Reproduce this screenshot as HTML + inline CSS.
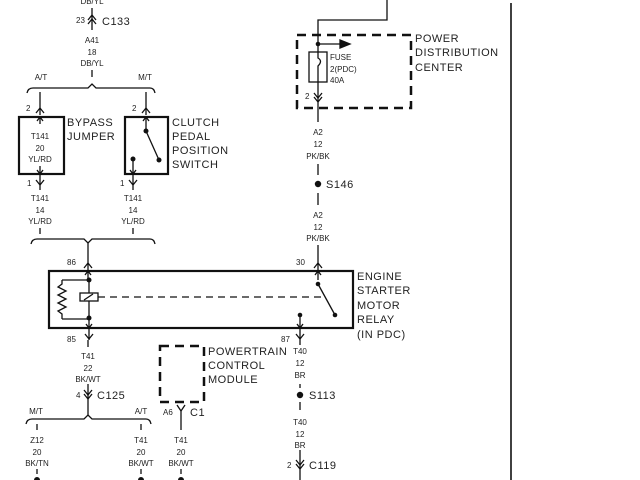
<!DOCTYPE html>
<html><head><meta charset="utf-8"><style>
html,body{margin:0;padding:0;background:#fff;}
svg{display:block;}
text{font-family:"Liberation Sans",sans-serif;fill:#222;}
.s{font-size:8px;text-anchor:middle;}
.l{font-size:11px;letter-spacing:0.5px;}
.sl{font-size:8px;}
</style></head><body>
<svg width="640" height="480" viewBox="0 0 640 480" xmlns="http://www.w3.org/2000/svg">
<g stroke="#111" fill="none" stroke-width="1.3">
<line x1="92" y1="8" x2="92" y2="30"/>
<polyline points="88,20 92,15 96,20"/><polyline points="88,24 92,19 96,24"/>
<line x1="92" y1="70" x2="92" y2="77"/>
<path d="M27,93 Q28,88 33,88 L88,88 L92,84 L96,88 L150,88 Q154,88 155,93"/>
<line x1="40" y1="92" x2="40" y2="115"/>
<polyline points="36,113 40,108 44,113"/>
<line x1="146" y1="92" x2="146" y2="115"/>
<polyline points="142,113 146,108 150,113"/>
<rect x="19" y="117" width="45" height="57" stroke-width="2.2"/>
<rect x="125" y="117" width="43" height="57" stroke-width="2.2"/>
<line x1="40" y1="117" x2="40" y2="124"/><polyline points="37,121 40,117 43,121"/>
<line x1="40" y1="166" x2="40" y2="190"/><polyline points="37,170 40,174 43,170"/>
<polyline points="36,180 40,185 44,180"/>
<line x1="146" y1="117" x2="146" y2="131"/><polyline points="143,121 146,117 149,121"/>
<line x1="146" y1="131" x2="159" y2="160"/>
<line x1="133" y1="159" x2="133" y2="190"/><polyline points="130,170 133,174 136,170"/>
<polyline points="129,180 133,185 137,180"/>
<line x1="40" y1="228" x2="40" y2="234"/><line x1="133" y1="228" x2="133" y2="234"/>
<path d="M31,244 Q32,239 37,239 L84,239 L88,243 L92,239 L150,239 Q154,239 155,244"/>
<line x1="88" y1="243" x2="88" y2="280"/>
<polyline points="84,268 88,263 92,268"/>
<line x1="318" y1="245" x2="318" y2="280"/>
<polyline points="314,268 318,263 322,268"/>
<rect x="49" y="271" width="304" height="57" stroke-width="2.2"/>
<polyline points="85,275 88,271 91,275"/>
<polyline points="315,275 318,271 321,275"/>
<line x1="89" y1="280" x2="89" y2="340"/>
<polyline points="62,280 89,280"/><polyline points="62,319 89,319"/>
<polyline points="62,280 62,284 58,287 66,291 58,295 66,299 58,303 66,307 58,311 62,314 62,319"/>
<rect x="80" y="293" width="18" height="8" fill="#fff"/>
<line x1="84" y1="300" x2="93" y2="294"/>
<line x1="98" y1="297" x2="326" y2="297" stroke-dasharray="7,5"/>
<line x1="318" y1="284" x2="335" y2="315"/>
<polyline points="86,324 89,328 92,324"/>
<polyline points="85,334 89,339 93,334"/>
<line x1="300" y1="315" x2="300" y2="345"/>
<polyline points="297,324 300,328 303,324"/>
<polyline points="296,334 300,339 304,334"/>
<polyline points="318,52 318,20 387,20 387,0"/>
<rect x="297" y="35" width="114" height="73" stroke-width="2.5" stroke-dasharray="9,6"/>
<line x1="318" y1="44" x2="340" y2="44"/>
<polygon points="340,40 350,44 340,48" fill="#111"/>
<rect x="309" y="52" width="18" height="30"/>
<path d="M318,52 L318,58 Q323,61 318,66 L318,82"/>
<line x1="318" y1="82" x2="318" y2="122"/>
<polyline points="314,93 318,98 322,93"/><polyline points="314,97 318,102 322,97"/>
<line x1="318" y1="164" x2="318" y2="175"/><line x1="318" y1="193" x2="318" y2="205"/>
<line x1="511" y1="3" x2="511" y2="480" stroke-width="1.6"/>
<line x1="88" y1="340" x2="88" y2="347"/>
<line x1="88" y1="384" x2="88" y2="415"/>
<polyline points="84,390 88,395 92,390"/><polyline points="84,394 88,399 92,394"/>
<path d="M26,424 Q27,419 32,419 L84,419 L88,415 L92,419 L146,419 Q150,419 151,424"/>
<line x1="37" y1="424" x2="37" y2="430"/><line x1="141" y1="424" x2="141" y2="430"/>
<line x1="37" y1="469" x2="37" y2="474"/><line x1="141" y1="469" x2="141" y2="474"/><line x1="181" y1="469" x2="181" y2="474"/>
<rect x="160" y="346" width="44" height="56" stroke-width="2.5" stroke-dasharray="9,6"/>
<line x1="181" y1="411" x2="181" y2="430"/>
<polyline points="177,405 181,411 185,405"/>
<line x1="300" y1="384" x2="300" y2="388"/><line x1="300" y1="402" x2="300" y2="410"/>
<line x1="300" y1="450" x2="300" y2="480"/>
<polyline points="296,460 300,465 304,460"/><polyline points="296,464 300,469 304,464"/>
</g>
<g fill="#111">
<circle cx="146" cy="131" r="2.5"/><circle cx="159" cy="160" r="2.5"/><circle cx="133" cy="159" r="2.5"/>
<circle cx="89" cy="280" r="2.5"/><circle cx="89" cy="318" r="2.5"/>
<circle cx="318" cy="284" r="2.3"/><circle cx="335" cy="315" r="2.3"/><circle cx="300" cy="315" r="2.3"/>
<circle cx="318" cy="44" r="2.3"/>
<circle cx="318" cy="184" r="3.2"/><circle cx="300" cy="395" r="3.2"/>
<circle cx="37" cy="480" r="3"/><circle cx="141" cy="480" r="3"/><circle cx="181" cy="480" r="3"/>
</g>
<text class="s" x="92" y="4">DB/YL</text>
<text class="sl" x="76" y="23">23</text><text class="l" x="102" y="25">C133</text>
<text class="s" x="92" y="43">A41</text><text class="s" x="92" y="55">18</text><text class="s" x="92" y="66">DB/YL</text>
<text class="s" x="41" y="80">A/T</text><text class="s" x="145" y="80">M/T</text>
<text class="sl" x="26" y="111">2</text><text class="sl" x="132" y="111">2</text>
<text class="s" x="40" y="139">T141</text><text class="s" x="40" y="151">20</text><text class="s" x="40" y="162">YL/RD</text>
<text class="l" x="67" y="126">BYPASS</text><text class="l" x="67" y="140">JUMPER</text>
<text class="l" x="172" y="126">CLUTCH</text><text class="l" x="172" y="140">PEDAL</text><text class="l" x="172" y="154">POSITION</text><text class="l" x="172" y="168">SWITCH</text>
<text class="sl" x="27" y="186">1</text><text class="sl" x="120" y="186">1</text>
<text class="s" x="40" y="201">T141</text><text class="s" x="40" y="213">14</text><text class="s" x="40" y="224">YL/RD</text>
<text class="s" x="133" y="201">T141</text><text class="s" x="133" y="213">14</text><text class="s" x="133" y="224">YL/RD</text>
<text class="sl" x="67" y="265">86</text><text class="sl" x="296" y="265">30</text>
<text class="sl" x="67" y="342">85</text><text class="sl" x="281" y="342">87</text>
<text class="l" x="415" y="42">POWER</text><text class="l" x="415" y="56">DISTRIBUTION</text><text class="l" x="415" y="71">CENTER</text>
<text class="sl" x="330" y="60">FUSE</text><text class="sl" x="330" y="72">2(PDC)</text><text class="sl" x="330" y="83">40A</text>
<text class="sl" x="305" y="99">2</text>
<text class="s" x="318" y="135">A2</text><text class="s" x="318" y="147">12</text><text class="s" x="318" y="159">PK/BK</text>
<text class="l" x="326" y="188">S146</text>
<text class="s" x="318" y="218">A2</text><text class="s" x="318" y="230">12</text><text class="s" x="318" y="241">PK/BK</text>
<text class="l" x="357" y="280">ENGINE</text><text class="l" x="357" y="294">STARTER</text><text class="l" x="357" y="309">MOTOR</text><text class="l" x="357" y="323">RELAY</text><text class="l" x="357" y="338">(IN PDC)</text>
<text class="s" x="88" y="359">T41</text><text class="s" x="88" y="371">22</text><text class="s" x="88" y="382">BK/WT</text>
<text class="sl" x="76" y="398">4</text><text class="l" x="97" y="399">C125</text>
<text class="s" x="36" y="414">M/T</text><text class="s" x="141" y="414">A/T</text>
<text class="s" x="37" y="443">Z12</text><text class="s" x="37" y="455">20</text><text class="s" x="37" y="466">BK/TN</text>
<text class="s" x="141" y="443">T41</text><text class="s" x="141" y="455">20</text><text class="s" x="141" y="466">BK/WT</text>
<text class="s" x="181" y="443">T41</text><text class="s" x="181" y="455">20</text><text class="s" x="181" y="466">BK/WT</text>
<text class="l" x="208" y="355">POWERTRAIN</text><text class="l" x="208" y="369">CONTROL</text><text class="l" x="208" y="383">MODULE</text>
<text class="sl" x="163" y="415">A6</text><text class="l" x="190" y="416">C1</text>
<text class="s" x="300" y="354">T40</text><text class="s" x="300" y="366">12</text><text class="s" x="300" y="378">BR</text>
<text class="l" x="309" y="399">S113</text>
<text class="s" x="300" y="425">T40</text><text class="s" x="300" y="437">12</text><text class="s" x="300" y="448">BR</text>
<text class="sl" x="287" y="468">2</text><text class="l" x="309" y="469">C119</text>
</svg>
</body></html>
